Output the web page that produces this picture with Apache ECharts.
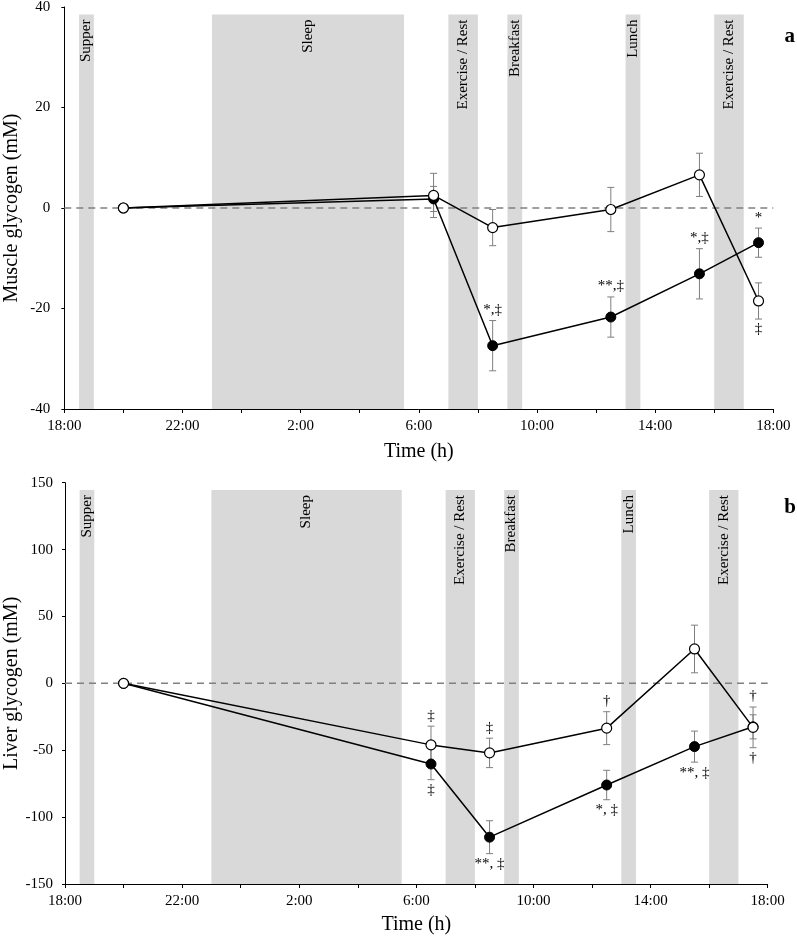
<!DOCTYPE html>
<html><head><meta charset="utf-8">
<script src="https://cdn.jsdelivr.net/npm/echarts@6/dist/echarts.min.js"></script>
<style>html,body{margin:0;padding:0;background:#fff}#c{width:797px;height:941px}</style>
</head><body><div id="c"></div>
<script>
// ---- data ----
const xTickLabels = ['18:00','22:00','2:00','6:00','10:00','14:00','18:00'];
const sampleTimes = ['20:00','6:30','8:30','12:30','15:30','17:30'];

const muscleOpen       = [0, 2.5, -3.9, -0.3, 6.6, -18.5];
const muscleOpenErr    = [0, 4.4, 3.6, 4.4, 4.3, 3.6];
const muscleFilled     = [0, 1.8, -27.4, -21.7, -13.1, -6.9];
const muscleFilledErr  = [0, 2.5, 5.0, 4.0, 5.0, 2.9];

const liverOpen        = [0, -46, -52, -33.5, 25.7, -32.9];
const liverOpenErr     = [0, 14, 11, 12.3, 17.8, 15.2];
const liverFilled      = [0, -60.3, -115, -76, -47.3, -32.5];
const liverFilledErr   = [0, 11.7, 12.3, 11, 11.6, 9];

const bandStart = ['18:30','23:00','7:00','9:00','13:00','16:00'];
const bandEnd   = ['19:00','5:30','8:00','9:30','13:30','17:00'];
const bandNames = ['Supper','Sleep','Exercise / Rest','Breakfast','Lunch','Exercise / Rest'];

const muscleAnnot = [
  ['8:30','filled','above','*,‡'],
  ['12:30','filled','above','**,‡'],
  ['15:30','filled','above','*,‡'],
  ['17:30','filled','above','*'],
  ['17:30','open','below','‡']
];
const liverAnnot = [
  ['6:30','open','above','‡'],
  ['6:30','filled','below','‡'],
  ['8:30','open','above','‡'],
  ['8:30','filled','below','**, ‡'],
  ['12:30','open','above','†'],
  ['12:30','filled','below','*, ‡'],
  ['15:30','filled','below','**, ‡'],
  ['17:30','open','above','†'],
  ['17:30','open','below','†']
];

// ---- helpers ----
const FONT = '"Liberation Serif","Times New Roman",serif';
function toH(s){ const [h,m]=s.split(':').map(Number); return ((h + m/60) - 18 + 24) % 24; }
const xs = sampleTimes.map(toH);

function panel(idx, cfg){
  const series = [];
  series.push({
    type:'custom', xAxisIndex:idx, yAxisIndex:idx, z:0, silent:true,
    data: bandStart.map((s,i)=>[toH(s), toH(bandEnd[i])]),
    encode:{x:[0,1]},
    renderItem:(params, api)=>{
      const a = api.coord([api.value(0), cfg.bandTop]);
      const b = api.coord([api.value(1), cfg.min]);
      const cx = (a[0]+b[0])/2;
      return {type:'group', children:[
        {type:'rect', shape:{x:a[0], y:a[1], width:b[0]-a[0], height:b[1]-a[1]}, style:{fill:'#d9d9d9'}},
        {type:'text', x:cx, y:a[1]+5, rotation:Math.PI/2,
         style:{text:bandNames[params.dataIndex], fill:'#000', font:'15px '+FONT,
                align:'right', verticalAlign:'middle', textAlign:'right', textVerticalAlign:'middle'}}
      ]};
    }
  });
  series.push({
    type:'line', xAxisIndex:idx, yAxisIndex:idx, z:1, silent:true, symbol:'none',
    data:[[0,0],[24,0]],
    lineStyle:{color:'#808080', width:1.5, type:[7,5]}
  });
  const errData = [];
  xs.forEach((x,i)=>{ errData.push([x, cfg.filled[i], cfg.filledErr[i]]); errData.push([x, cfg.open[i], cfg.openErr[i]]); });
  series.push({
    type:'custom', xAxisIndex:idx, yAxisIndex:idx, z:2, silent:true,
    data: errData, encode:{x:0, y:1},
    renderItem:(params, api)=>{
      const x=api.value(0), y=api.value(1), e=api.value(2);
      if(!e) return null;
      const t = api.coord([x, y+e]), b = api.coord([x, y-e]);
      const st = {stroke:'#7f7f7f', lineWidth:1};
      return {type:'group', children:[
        {type:'line', shape:{x1:t[0], y1:t[1], x2:b[0], y2:b[1]}, style:st},
        {type:'line', shape:{x1:t[0]-3.5, y1:t[1], x2:t[0]+3.5, y2:t[1]}, style:st},
        {type:'line', shape:{x1:b[0]-3.5, y1:b[1], x2:b[0]+3.5, y2:b[1]}, style:st}
      ]};
    }
  });
  series.push({
    type:'line', xAxisIndex:idx, yAxisIndex:idx, z:3, silent:true,
    data: xs.map((x,i)=>[x, cfg.filled[i]]),
    symbol:'circle', symbolSize:10,
    lineStyle:{color:'#000', width:1.5},
    itemStyle:{color:'#000', borderColor:'#000', borderWidth:1}
  });
  series.push({
    type:'line', xAxisIndex:idx, yAxisIndex:idx, z:4, silent:true,
    data: xs.map((x,i)=>[x, cfg.open[i]]),
    symbol:'circle', symbolSize:10, showAllSymbol:true,
    lineStyle:{color:'#000', width:1.5},
    itemStyle:{color:'#fff', borderColor:'#000', borderWidth:1.2}
  });
  const annData = cfg.annot.map(a=>{
    const i = sampleTimes.indexOf(a[0]);
    const v = a[1]==='open' ? cfg.open[i] : cfg.filled[i];
    const e = a[1]==='open' ? cfg.openErr[i] : cfg.filledErr[i];
    return [xs[i], a[2]==='above' ? v+e : v-e];
  });
  series.push({
    type:'custom', xAxisIndex:idx, yAxisIndex:idx, z:5, silent:true,
    data: annData, encode:{x:0, y:1},
    renderItem:(params, api)=>{
      const a = cfg.annot[params.dataIndex];
      const p = api.coord([api.value(0), api.value(1)]);
      const above = a[2]==='above';
      return {type:'text', x:p[0], y: above ? p[1]-3 : p[1]+3,
        style:{text:a[3], fill:'#000', font:'15px '+FONT,
          align:'center', verticalAlign: above?'bottom':'top',
          textAlign:'center', textVerticalAlign: above?'bottom':'top'}};
    }
  });
  return series;
}

const cfgA = {min:-40, max:40, interval:20, bandTop:38.5,
  open:muscleOpen, openErr:muscleOpenErr, filled:muscleFilled, filledErr:muscleFilledErr, annot:muscleAnnot};
const cfgB = {min:-150, max:150, interval:50, bandTop:144.5,
  open:liverOpen, openErr:liverOpenErr, filled:liverFilled, filledErr:liverFilledErr, annot:liverAnnot};

function xAxis(idx, gap){
  return {
    type:'value', gridIndex:idx, min:0, max:24, interval:2,
    name:'Time (h)', nameLocation:'middle', nameGap:gap, nameMoveOverlap:false,
    nameTextStyle:{fontFamily:FONT, fontSize:20, color:'#000'},
    axisLine:{show:true, onZero:false, lineStyle:{color:'#000', width:1}},
    axisTick:{show:true, length:4, lineStyle:{color:'#000'}},
    axisLabel:{fontFamily:FONT, fontSize:15, color:'#000', margin:10,
      showMinLabel:true, showMaxLabel:true, hideOverlap:false,
      formatter:(v)=> (Math.round(v)%4===0 ? xTickLabels[Math.round(v)/4] : '')},
    splitLine:{show:false}
  };
}
function yAxis(idx, cfg, name, margin){
  return {
    type:'value', gridIndex:idx, min:cfg.min, max:cfg.max, interval:cfg.interval,
    name:name, nameLocation:'middle', nameGap:43, nameMoveOverlap:false,
    nameTextStyle:{fontFamily:FONT, fontSize:20, color:'#000'},
    axisLine:{show:true, onZero:false, lineStyle:{color:'#000', width:1}},
    axisTick:{show:true, length:3, lineStyle:{color:'#000'}},
    axisLabel:{fontFamily:FONT, fontSize:15, color:'#000', margin:margin, showMinLabel:true, showMaxLabel:true},
    splitLine:{show:false}
  };
}

const chart = echarts.init(document.getElementById('c'), null, {renderer:'canvas'});
chart.setOption({
  animation:false,
  backgroundColor:'#fff',
  grid:[
    {left:64.3, top:7, width:709, height:402, containLabel:false, outerBoundsMode:'none'},
    {left:65, top:482.7, width:702.7, height:401.3, containLabel:false, outerBoundsMode:'none'}
  ],
  xAxis:[xAxis(0, 33), xAxis(1, 31)],
  yAxis:[yAxis(0, cfgA, 'Muscle glycogen (mM)', 14), yAxis(1, cfgB, 'Liver glycogen (mM)', 12)],
  graphic:[
    {type:'text', right:2, top:26, style:{text:'a', font:'bold 21px '+FONT, fill:'#000'}},
    {type:'text', right:1, top:497, style:{text:'b', font:'bold 21px '+FONT, fill:'#000'}}
  ],
  series:[...panel(0, cfgA), ...panel(1, cfgB)]
});
</script>
</body></html>
